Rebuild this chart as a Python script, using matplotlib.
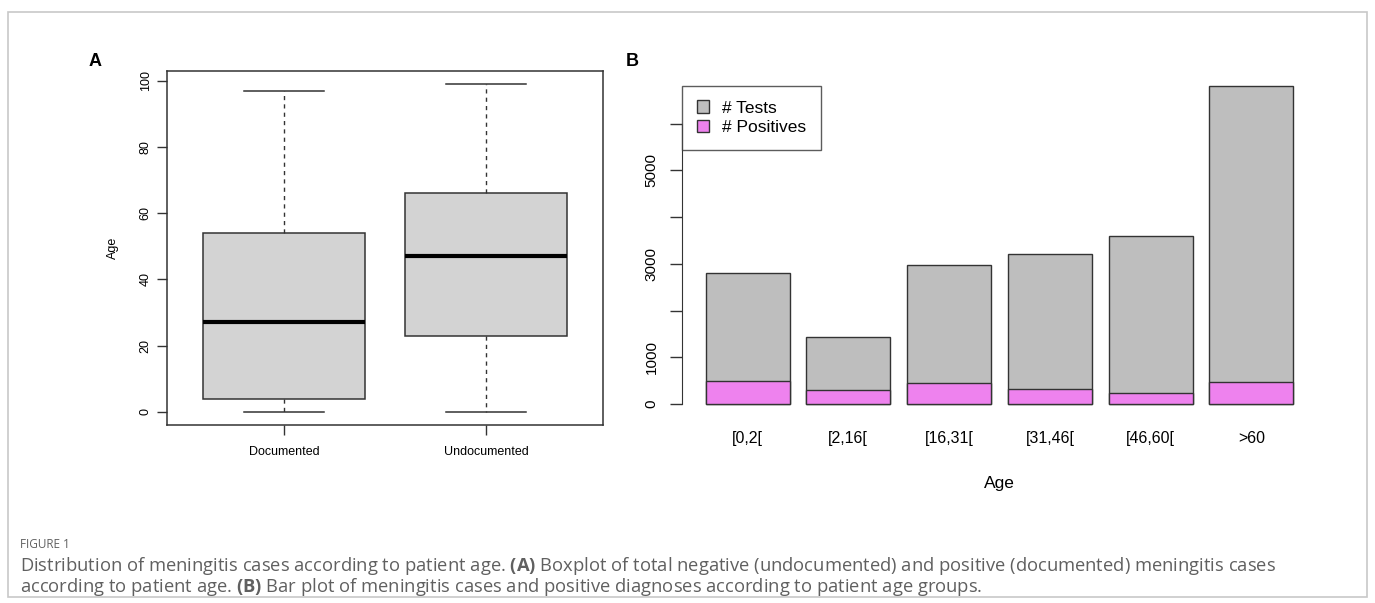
import matplotlib
matplotlib.use("Agg")
import matplotlib.pyplot as plt
from matplotlib.patches import Patch, Rectangle

# panel A: boxplot stats
box_names = ["Documented", "Undocumented"]
box_whislo = [0, 0]
box_q1 = [4, 23]
box_med = [27, 47]
box_q3 = [54, 66]
box_whishi = [97, 99]

# panel B: tests and positives per age group
age_groups = ["[0,2[", "[2,16[", "[16,31[", "[31,46[", "[46,60[", ">60"]
n_tests = [2815, 1435, 2975, 3210, 3605, 6815]
n_positives = [492, 305, 445, 328, 230, 478]

W, H = 1375, 603
fig = plt.figure(figsize=(W / 100, H / 100), dpi=100)
plt.rcParams['font.family'] = ['Liberation Sans', 'DejaVu Sans']
plt.rcParams['mathtext.fontset'] = 'custom'
plt.rcParams['mathtext.rm'] = 'Open Sans'
plt.rcParams['mathtext.bf'] = 'Open Sans:bold'

def px_axes(l, t, r, b):
    return fig.add_axes([l / W, 1 - b / H, (r - l) / W, (b - t) / H])

# outer frame
fig.patches.append(Rectangle((8 / W, 6 / H), 1359 / W, 585 / H, transform=fig.transFigure,
                             fill=False, edgecolor="#c8c8c8", lw=1.2))

edge = "#333333"

# ---- A ----
axA = px_axes(167, 71, 603, 425)
stats = []
for i in range(len(box_names)):
    stats.append(dict(label=box_names[i], whislo=box_whislo[i], q1=box_q1[i], med=box_med[i],
                      q3=box_q3[i], whishi=box_whishi[i], fliers=[]))
axA.bxp(stats, positions=[1, 2], widths=0.8, capwidths=0.4, patch_artist=True, showfliers=False,
        boxprops=dict(facecolor="#d3d3d3", edgecolor=edge, lw=1.1),
        medianprops=dict(color="black", lw=3),
        whiskerprops=dict(color=edge, lw=1, linestyle=(0, (3, 3))),
        capprops=dict(color=edge, lw=1.1))
ylo, yhi = min(box_whislo), max(box_whishi)
pad = (yhi - ylo) * 0.04
axA.set_ylim(ylo - pad, yhi + pad)
axA.set_xlim(0.42, 2.58)
axA.set_yticks(range(0, 101, 20))
axA.set_yticklabels([str(v) for v in range(0, 101, 20)], rotation=90, va="center", fontsize=9)
axA.set_xticks([1, 2])
axA.set_xticklabels(box_names, fontsize=9)
axA.tick_params(axis="both", length=7, width=1, color=edge, pad=4)
axA.tick_params(axis="x", pad=8)
for s in axA.spines.values():
    s.set_color(edge)
    s.set_linewidth(1.1)
axA.set_ylabel("Age", fontsize=9, labelpad=15)
fig.text(95 / W, 1 - 61 / H, "A", fontsize=13, fontweight="bold", ha="center", va="center")

# ---- B ----
top = max(n_tests)
ymin, ymax = -0.04 * top, 1.04 * top
scale = (404 - 85.7) / top
axB = px_axes(682, 404 - ymax * scale, 1317, 404 - ymin * scale)
xs = [0.7 + 1.2 * i for i in range(len(age_groups))]
axB.bar(xs, n_tests, width=1, color="#bebebe", edgecolor=edge, lw=1)
axB.bar(xs, n_positives, width=1, color="#ee82ee", edgecolor=edge, lw=1)
axB.set_xlim(0.2 - 0.28, xs[-1] + 0.5 + 0.28)
axB.set_ylim(ymin, ymax)
for k in ["top", "right", "bottom"]:
    axB.spines[k].set_visible(False)
axB.spines["left"].set_bounds(0, 6000)
axB.spines["left"].set_color(edge)
axB.set_yticks(range(0, 6001, 1000))
axB.set_yticklabels(["0", "1000", "", "3000", "", "5000", ""], rotation=90, va="center", fontsize=11)
axB.tick_params(axis="y", length=9, width=1, color=edge, pad=8)
axB.set_xticks(xs)
axB.set_xticklabels(age_groups, fontsize=11.5)
axB.tick_params(axis="x", length=0, pad=10)
axB.set_xlabel("Age", fontsize=12.5, labelpad=22)
leg = axB.legend(handles=[Patch(facecolor="#bebebe", edgecolor=edge, label="# Tests"),
                          Patch(facecolor="#ee82ee", edgecolor=edge, label="# Positives")],
                 loc="upper left", bbox_to_anchor=(0.0, top), bbox_transform=axB.get_yaxis_transform(),
                 fontsize=12.5, frameon=True, fancybox=False, borderaxespad=0, handlelength=0.7,
                 handleheight=0.7, handletextpad=0.75, borderpad=0.85, labelspacing=0.25)
leg.get_frame().set_edgecolor(edge)
leg.get_frame().set_linewidth(1)
fig.text(632 / W, 1 - 61 / H, "B", fontsize=13, fontweight="bold", ha="center", va="center")

# ---- caption ----
cap_font = ['Open Sans', 'DejaVu Sans']
cap_col = "#606060"
fig.text(20 / W, 1 - 544 / H, "FIGURE 1", fontsize=8.5, color=cap_col, va="center", family=cap_font)
fig.text(20 / W, 1 - 566 / H,
         "Distribution of meningitis cases according to patient age. $\\bf{(A)}$ Boxplot of total negative "
         "(undocumented) and positive (documented) meningitis cases",
         fontsize=13.2, color=cap_col, va="center", family=cap_font)
fig.text(20 / W, 1 - 587 / H,
         "according to patient age. $\\bf{(B)}$ Bar plot of meningitis cases and positive diagnoses "
         "according to patient age groups.",
         fontsize=13.2, color=cap_col, va="center", family=cap_font)

fig.savefig("out.png", dpi=100)
